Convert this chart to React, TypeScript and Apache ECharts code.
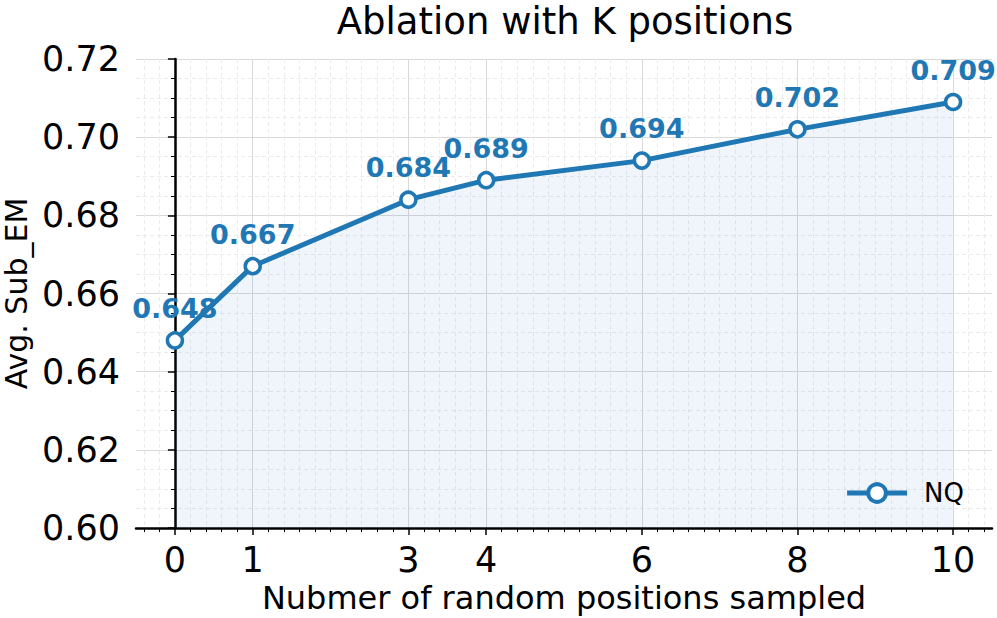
import React, { useEffect, useRef } from "react";
import * as echarts from "echarts";

const positions = [0, 1, 3, 4, 6, 8, 10];
const subEM = [0.648, 0.667, 0.684, 0.689, 0.694, 0.702, 0.709];
const xTickValues = [0, 1, 3, 4, 6, 8, 10];
const seriesName = "NQ";
const titleText = "Ablation with K positions";
const xName = "Nubmer of random positions sampled";
const yName = "Avg. Sub_EM";

const FONT = '"DejaVu Sans", "Liberation Sans", sans-serif';
const BLUE = "#1f77b4";

export default function App() {
  const ref = useRef<HTMLDivElement>(null);
  useEffect(() => {
    if (!ref.current) return;
    const chart = echarts.init(ref.current, undefined, { renderer: "svg" });
    const minorX: number[] = [];
    for (let i = -2; i <= 52; i++) {
      const v = Math.round(i * 2) / 10;
      if (xTickValues.indexOf(v) < 0) minorX.push(v);
    }
    const data = positions.map((p, i) => [p, subEM[i]]);
    chart.setOption({
      animation: false,
      textStyle: { fontFamily: FONT },
      graphic: [
        {
          type: "text",
          x: 565,
          y: 21,
          style: {
            text: titleText,
            fontSize: 37,
            fontFamily: FONT,
            fill: "#000",
            align: "center",
            verticalAlign: "middle",
          },
        },
      ],
      grid: { left: 136, right: 5, top: 59, bottom: 90, outerBoundsMode: "none" },
      legend: {
        data: [seriesName],
        right: 28,
        top: 475,
        itemWidth: 60,
        itemHeight: 22,
        lineStyle: { width: 5, color: BLUE },
        itemStyle: { color: "#fff", borderColor: BLUE, borderWidth: 4 },
        textStyle: { fontSize: 26, color: "#000", fontFamily: FONT, padding: [0, 0, 0, 12] },
      },
      xAxis: [
        {
          type: "value",
          min: -0.5,
          max: 10.5,
          position: "bottom",
          name: xName,
          nameLocation: "middle",
          nameGap: 54,
          nameTextStyle: { fontSize: 32, color: "#000", fontFamily: FONT },
          axisLine: { show: true, lineStyle: { color: "#000", width: 2.5 } },
          axisTick: { show: true, customValues: xTickValues, length: 7, lineStyle: { color: "#000", width: 1.5 } },
          axisLabel: { show: true, customValues: xTickValues, fontSize: 35, color: "#000", margin: 14, fontFamily: FONT },
          splitLine: { show: true, lineStyle: { color: "#d9d9d9", width: 1 } },
        },
        {
          type: "value",
          min: -0.5,
          max: 10.5,
          position: "bottom",
          axisLine: { show: false },
          axisTick: { show: true, customValues: minorX, length: 4, lineStyle: { color: "#000", width: 1 } },
          axisLabel: { show: false, customValues: minorX },
          splitLine: { show: true, lineStyle: { color: "#ebebeb", width: 1, type: [4, 3] } },
        },
      ],
      yAxis: {
        type: "value",
        min: 0.6,
        max: 0.72,
        interval: 0.02,
        name: yName,
        nameLocation: "middle",
        nameGap: 99,
        nameRotate: 90,
        nameTextStyle: { fontSize: 30, color: "#000", fontFamily: FONT },
        axisLine: { show: true, lineStyle: { color: "#000", width: 2.5 } },
        axisTick: { show: true, length: 7, lineStyle: { color: "#000", width: 1.5 } },
        minorTick: { show: true, splitNumber: 4, length: 4, lineStyle: { color: "#000", width: 1 } },
        axisLabel: {
          fontSize: 35,
          color: "#000",
          margin: 16,
          fontFamily: FONT,
          formatter: (v: number) => v.toFixed(2),
        },
        splitLine: { show: true, lineStyle: { color: "#d9d9d9", width: 1 } },
        minorSplitLine: { show: true, lineStyle: { color: "#ebebeb", width: 1, type: [4, 3] } },
      },
      series: [
        {
          name: seriesName,
          type: "line",
          xAxisIndex: 0,
          data,
          symbol: "circle",
          symbolSize: 15,
          lineStyle: { color: BLUE, width: 5 },
          itemStyle: { color: "#fff", borderColor: BLUE, borderWidth: 3.5 },
          areaStyle: { color: "rgba(31,119,180,0.1)", origin: "start" },
          label: {
            show: true,
            position: "top",
            distance: 9,
            fontSize: 27,
            fontWeight: "bold",
            color: BLUE,
            fontFamily: FONT,
            formatter: (p: any) => p.value[1].toFixed(3),
          },
        },
      ],
    });
    return () => chart.dispose();
  }, []);
  return (
    <div
      ref={ref}
      style={{ position: "absolute", left: 0, top: 0, width: 997, height: 618, background: "#fff" }}
    />
  );
}
